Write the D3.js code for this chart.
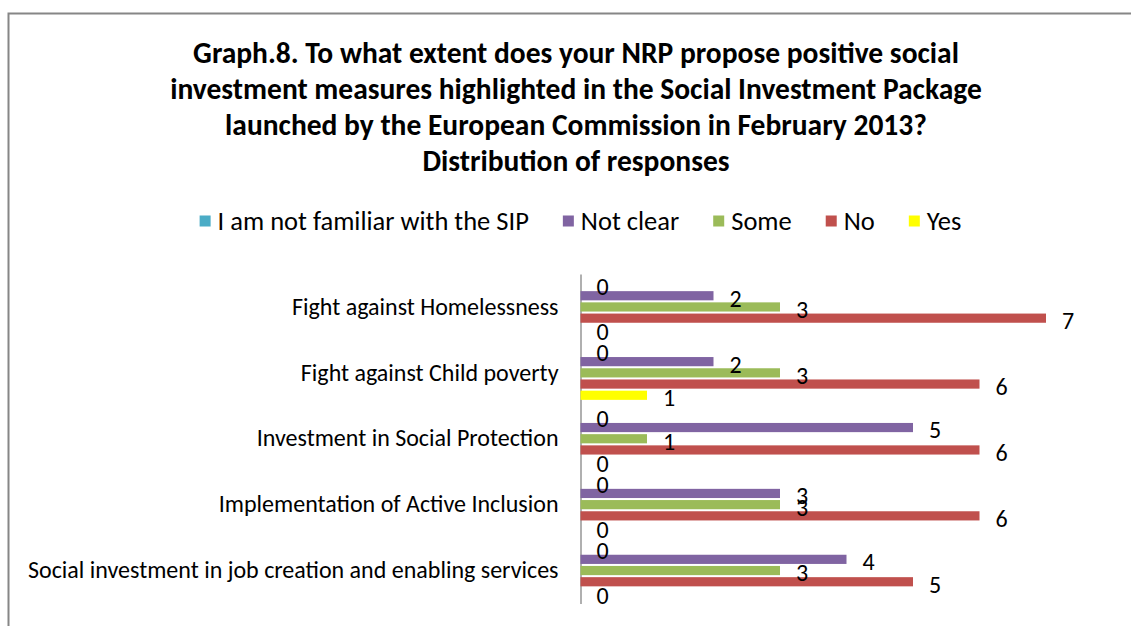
<!DOCTYPE html>
<html>
<head>
<meta charset="utf-8">
<script src="https://cdn.jsdelivr.net/npm/d3@7"></script>
<style>
  html, body { margin: 0; padding: 0; background: #fff; }
  svg { display: block; }
  text { font-family: Carlito, Calibri, Lato, sans-serif; fill: #000; }
</style>
</head>
<body>
<svg id="chart" width="1131" height="626"></svg>
<script>
// Survey responses per social investment theme
const categories = [
  "Fight against Homelessness",
  "Fight against Child poverty",
  "Investment in Social Protection",
  "Implementation of Active Inclusion",
  "Social investment in job creation and enabling services"
];
const seriesNames = ["I am not familiar with the SIP", "Not clear", "Some", "No", "Yes"];
const seriesColors = ["#4BACC6", "#8064A2", "#9BBB59", "#C0504D", "#FFFF00"];

const notFamiliar = [0, 0, 0, 0, 0];
const notClear    = [2, 2, 5, 3, 4];
const some        = [3, 3, 1, 3, 3];
const no          = [7, 6, 6, 6, 5];
const yes         = [0, 1, 0, 0, 0];

const titleLines = [
  "Graph.8. To what extent does your NRP propose positive social",
  "investment measures highlighted in the Social Investment Package",
  "launched by the European Commission in February 2013?",
  "Distribution of responses"
];

const seriesValues = [notFamiliar, notClear, some, no, yes];

const svg = d3.select("#chart");

// chart frame
svg.append("rect")
  .attr("x", 8.5).attr("y", 13.5)
  .attr("width", 1140).attr("height", 640)
  .attr("fill", "#fff")
  .attr("stroke", "#868686")
  .attr("stroke-width", 2);

// title
svg.append("g").selectAll("text")
  .data(titleLines)
  .join("text")
  .attr("x", 576)
  .attr("y", (d, i) => 62.5 + i * 36)
  .attr("text-anchor", "middle")
  .attr("font-weight", "bold")
  .attr("font-size", 29.5)
  .text(d => d);

// legend
const legend = svg.append("g");
const items = legend.selectAll("g")
  .data(seriesNames)
  .join("g");
items.append("rect")
  .attr("width", 11).attr("height", 11)
  .attr("y", -5.5)
  .attr("fill", (d, i) => seriesColors[i]);
items.append("text")
  .attr("x", 18)
  .attr("y", 8.5)
  .attr("font-size", 26.5)
  .attr("fill", "#000")
  .text(d => d);
const legendGap = 34;
let cursor = 0;
items.each(function () {
  const w = this.getBBox().width;
  d3.select(this).attr("data-x", cursor);
  cursor += w + legendGap;
});
const legendWidth = cursor - legendGap;
const legendStart = 580.5 - legendWidth / 2;
items.attr("transform", function () {
  return `translate(${legendStart + (+d3.select(this).attr("data-x"))},221)`;
});

// scales
const x = d3.scaleLinear().domain([0, 8]).range([580.5, 1112.5]);
const y = d3.scaleBand().domain(categories).range([274, 603.5]);
const ySub = d3.scaleBand()
  .domain(d3.range(seriesNames.length))
  .range([0, y.bandwidth()])
  .paddingInner(0.18)
  .paddingOuter(0.53);

// category axis
const yAxis = d3.axisLeft(y).tickSize(0).tickPadding(22);
const axisG = svg.append("g")
  .attr("transform", `translate(${x(0)},0)`)
  .call(yAxis);
axisG.select(".domain").attr("stroke", "#868686").attr("stroke-width", 1.3);
axisG.selectAll("text")
  .attr("font-size", 24)
  .attr("fill", "#000")
  .attr("dy", "0.32em")
  .style("font-family", "Carlito, Calibri, Lato, sans-serif");

// bars
const rows = [];
categories.forEach((c, ci) => {
  seriesValues.forEach((vals, si) => {
    rows.push({ cat: c, s: si, v: vals[ci] });
  });
});

const groups = svg.append("g");
groups.selectAll("rect")
  .data(rows)
  .join("rect")
  .attr("x", x(0))
  .attr("y", d => y(d.cat) + ySub(d.s))
  .attr("height", ySub.bandwidth())
  .attr("width", d => x(d.v) - x(0))
  .attr("fill", d => seriesColors[d.s]);

// value labels
groups.selectAll("text")
  .data(rows)
  .join("text")
  .attr("x", d => x(d.v) + 16)
  .attr("y", d => y(d.cat) + ySub(d.s) + ySub.bandwidth() / 2 + 2.5)
  .attr("dy", "0.35em")
  .attr("font-size", 24)
  .text(d => d.v);
</script>
</body>
</html>
